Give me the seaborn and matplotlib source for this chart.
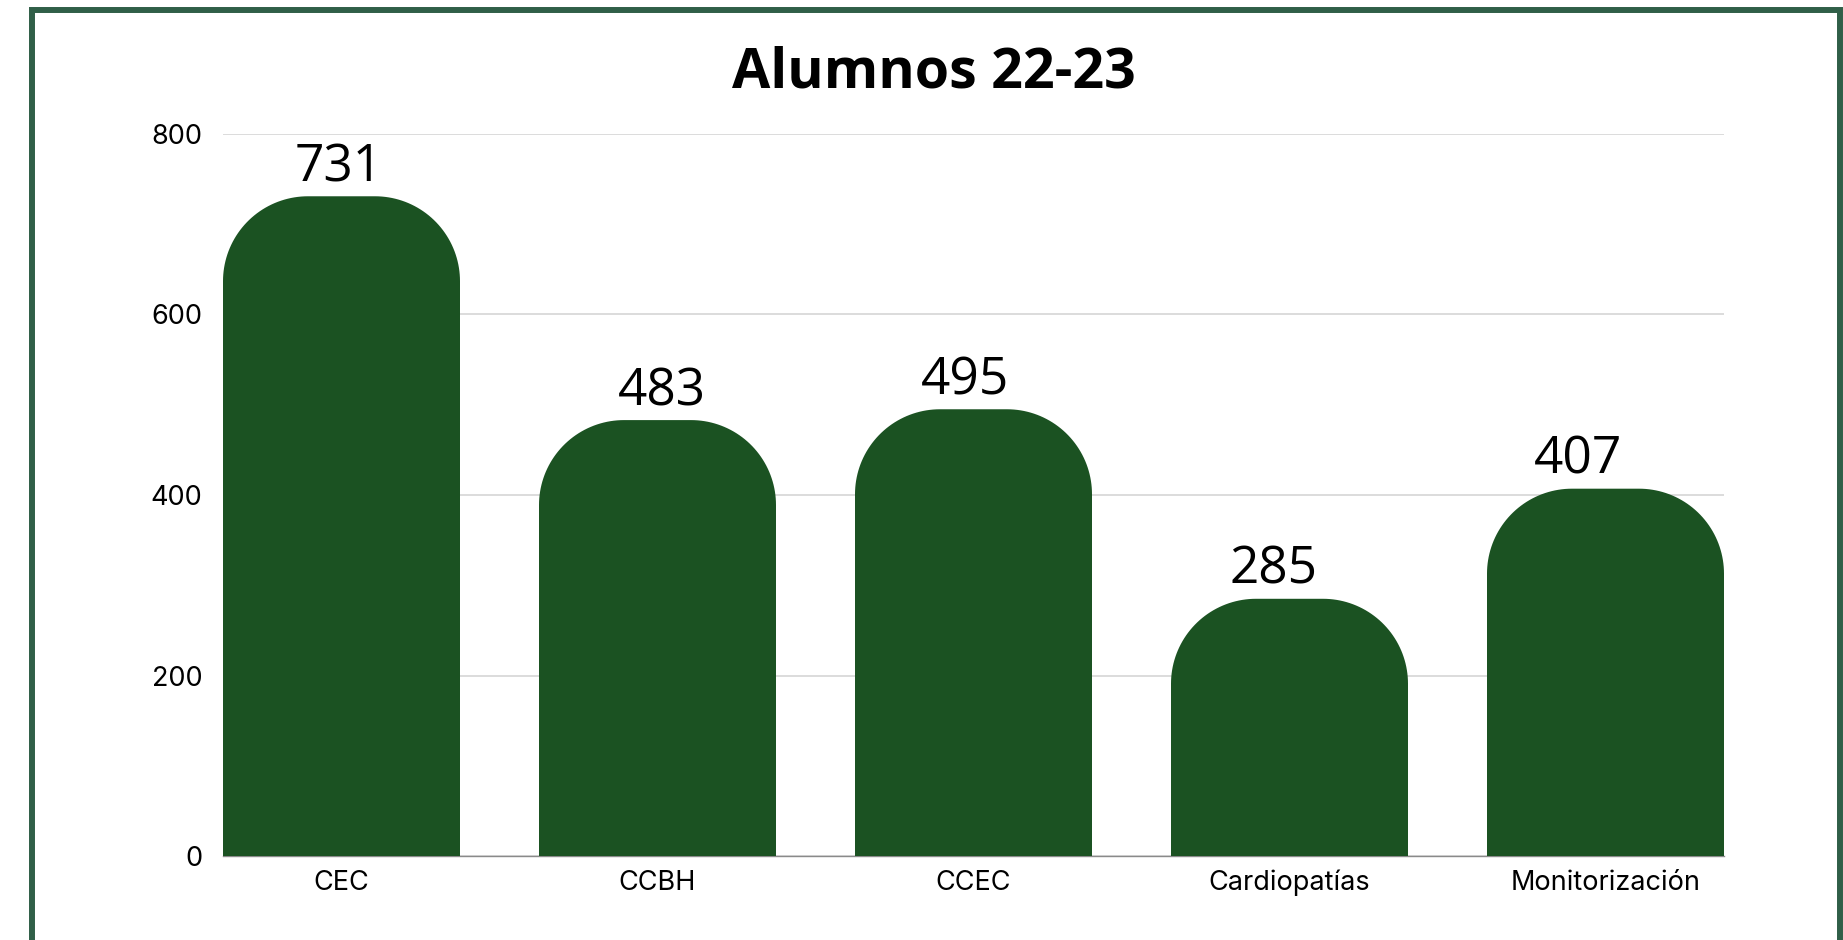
import numpy as np
import matplotlib
matplotlib.use("Agg")
import matplotlib.pyplot as plt
from matplotlib.patches import Polygon, Rectangle
import seaborn as sns

categories = ["CEC", "CCBH", "CCEC", "Cardiopatías", "Monitorización"]
values = [731, 483, 495, 285, 407]
yticks = [0, 200, 400, 600, 800]
title = "Alumnos 22-23"

# small horizontal nudges (pixels) for the value labels
label_dx_px = [-3, 4, -9, -16, -27]

bar_color = "#1b5222"
frame_color = "#305f48"

sns.set_theme(style="white")
plt.rcParams["font.family"] = ["Inter", "DejaVu Sans"]

W, H = 1843, 940
fig = plt.figure(figsize=(W / 100, H / 100), dpi=100)
ax = fig.add_axes([223 / W, 84 / H, (1724 - 223) / W, (856 - 134) / H])

sns.barplot(x=categories, y=values, color=bar_color, saturation=1,
            width=0.75, ax=ax, zorder=3)
ax.set_xlim(-0.375, len(categories) - 1 + 0.375)
ax.set_ylim(0, 800)
ax.set_yticks(yticks)
ax.set_xlabel("")
ax.set_ylabel("")

ax.set_axisbelow(True)
ax.yaxis.grid(True, color="#d9d9d9", lw=1.3)
ax.xaxis.grid(False)
for side in ["top", "right", "left"]:
    ax.spines[side].set_visible(False)
ax.spines["bottom"].set_color("#8a8a8a")
ax.spines["bottom"].set_linewidth(1.0)
ax.tick_params(axis="both", length=0, labelsize=19.5, colors="black")
ax.tick_params(axis="y", pad=15)
ax.tick_params(axis="x", pad=10)

# Replace the rectangular bars with bars whose top corners are rounded
fig.canvas.draw()
t0 = ax.transData.transform((0, 0))
t1 = ax.transData.transform((1, 1))
sx, sy = t1[0] - t0[0], t1[1] - t0[1]
r_px = 85
rx, ry = r_px / sx, r_px / sy
theta = np.linspace(0, np.pi / 2, 40)
for p in list(ax.patches):
    x0, w, h = p.get_x(), p.get_width(), p.get_height()
    x1 = x0 + w
    left_arc = np.column_stack([x0 + rx - rx * np.cos(theta), h - ry + ry * np.sin(theta)])
    right_arc = np.column_stack([x1 - rx + rx * np.sin(theta), h - ry + ry * np.cos(theta)])
    verts = np.vstack([[[x0, 0]], left_arc, right_arc, [[x1, 0]]])
    ax.add_patch(Polygon(verts, closed=True, facecolor=bar_color,
                         edgecolor="none", zorder=3))
    p.remove()

for i, v in enumerate(values):
    ax.annotate(f"{v}", xy=(i, v), xytext=(label_dx_px[i] * 0.72, 15 * 0.72),
                textcoords="offset points", ha="center", va="baseline",
                fontsize=37, family="Open Sans", color="black", zorder=4)

fig.text(934 / W, (H - 88) / H, title, ha="center", va="baseline",
         fontsize=40, fontweight="bold", family="Open Sans", color="black")

fig.add_artist(Rectangle((32 / W, -0.05), (1839.5 - 32) / W, (H - 10.5) / H + 0.05,
                         transform=fig.transFigure, fill=False,
                         edgecolor=frame_color, lw=4.3))

fig.savefig("out.png", dpi=100, facecolor="white")
